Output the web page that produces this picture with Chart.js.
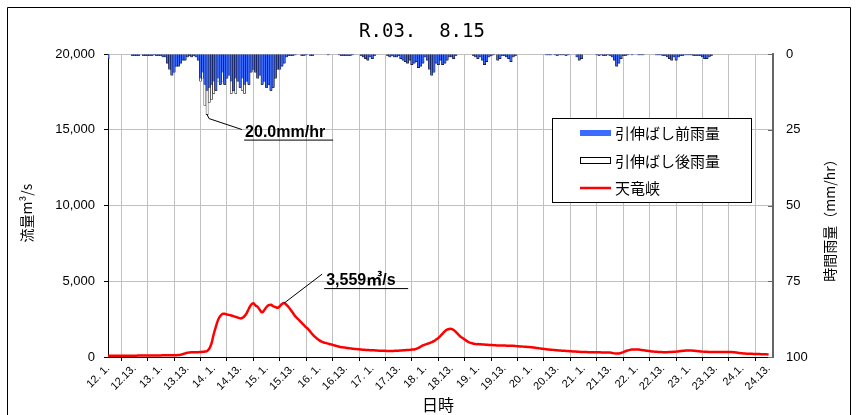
<!DOCTYPE html>
<html>
<head>
<meta charset="utf-8">
<script src="https://cdn.jsdelivr.net/npm/chart.js@4.4.1/dist/chart.umd.min.js"></script>
<style>
  html, body { margin: 0; padding: 0; background: #fff; }
</style>
</head>
<body>
<canvas id="canvas" width="856" height="415"></canvas>
<script>
// 12日1時 からの時刻(時間) の目盛と表示ラベル
var tickHours = [0, 12, 24, 36, 48, 60, 72, 84, 96, 108, 120, 132, 144, 156, 168, 180, 192, 204, 216, 228, 240, 252, 264, 276, 288, 300];
var tickLabels = ["12. 1.", "12.13.", "13. 1.", "13.13.", "14. 1.", "14.13.", "15. 1.", "15.13.", "16. 1.", "16.13.",
                  "17. 1.", "17.13.", "18. 1.", "18.13.", "19. 1.", "19.13.", "20. 1.", "20.13.", "21. 1.", "21.13.",
                  "22. 1.", "22.13.", "23. 1.", "23.13.", "24.1.", "24.13."];
var rainTicks = [0, 25, 50, 75, 100];

// 天竜峡 流量 (m3/s) 1時間毎
var flow = [].concat(
  [80, 80, 80, 80, 80, 80, 80, 85, 85, 85, 90, 90, 90, 90, 95, 95, 95, 100, 100, 100, 100, 100, 105, 105],
  [105, 110, 110, 110, 115, 115, 120, 120, 130, 150, 190, 240, 280, 300, 310, 315, 320, 320, 330, 340, 360, 400, 550, 900],
  [1500, 2000, 2450, 2700, 2850, 2850, 2800, 2780, 2740, 2700, 2650, 2600, 2550, 2580, 2700, 2900, 3200, 3450, 3550, 3400, 3300, 3100, 2950, 3100],
  [3300, 3420, 3450, 3350, 3300, 3250, 3350, 3500, 3559, 3450, 3300, 3100, 2900, 2700, 2550, 2400, 2250, 2100, 1950, 1830, 1650, 1480, 1330, 1200],
  [1100, 1020, 960, 920, 880, 840, 800, 760, 720, 680, 650, 630, 610, 590, 570, 550, 530, 520, 505, 490, 480, 470, 460, 450],
  [445, 440, 430, 420, 415, 410, 405, 400, 400, 400, 405, 410, 420, 430, 440, 450, 460, 470, 490, 500, 540, 600, 680, 760],
  [820, 870, 920, 980, 1050, 1150, 1250, 1400, 1550, 1700, 1800, 1850, 1850, 1780, 1650, 1500, 1350, 1250, 1150, 1050, 960, 920, 880, 850],
  [850, 840, 830, 820, 810, 800, 790, 780, 770, 765, 760, 760, 755, 750, 745, 740, 735, 725, 710, 700, 690, 680, 670, 660],
  [650, 630, 610, 590, 570, 550, 530, 510, 495, 480, 470, 455, 440, 430, 420, 410, 400, 390, 380, 370, 360, 350, 340, 335],
  [330, 325, 320, 320, 315, 315, 310, 310, 305, 300, 300, 300, 290, 270, 240, 225, 235, 270, 320, 380, 430, 470, 490, 500],
  [500, 490, 470, 450, 430, 410, 390, 370, 355, 340, 330, 325, 320, 320, 320, 325, 330, 340, 355, 370, 390, 405, 420, 430],
  [430, 425, 415, 400, 385, 370, 355, 345, 340, 335, 330, 330, 330, 330, 330, 330, 330, 330, 330, 325, 320, 300, 280, 260],
  [240, 230, 220, 215, 210, 205, 200, 195, 190, 185, 180, 175, 170]
);

// 引伸ばし後雨量 (mm/hr)
var rainAfter = [].concat(
  [1.5, 0, 0, 0, 0, 0, 0, 0, 0, 0, 0, 0.5, 0.5, 0.5, 0.5, 0, 0.5, 0.5, 0.5, 0.5, 0.5, 0.3, 0.5, 0.5],
  [0.5, 1, 1, 3, 5, 7, 6, 4, 4, 3, 2, 2, 1, 0.5, 1, 0.5, 1, 2, 9, 8, 17, 20, 16, 15],
  [13, 12, 9, 10, 9, 10, 8, 7, 13, 12, 13, 9, 11, 12, 13, 9, 10, 6, 5, 6, 8, 7, 10, 9],
  [11, 10, 12, 11, 8, 5, 5, 4, 3, 1, 0.5, 0.5, 0.5, 0.3, 0, 0, 0.5, 0.5, 0.3, 0, 0.5, 0.5, 0, 0],
  [0, 0, 0, 0, 0.3, 0, 0, 0, 0, 0.3, 0.5, 0.5, 0.5, 0.5, 0.5, 0.3, 0, 0, 0, 0.5, 1, 1.5, 2, 1],
  [1.5, 0.5, 0, 0, 0, 0, 0, 0.5, 1, 0.5, 1, 1, 0.5, 1.5, 2, 2.5, 3, 2, 3.5, 3, 2.5, 4.5, 4, 3],
  [1, 2, 5, 7, 6, 3, 3.5, 2, 3.5, 3, 2, 1, 1, 1.5, 0.5, 0, 0, 0, 0, 0, 0, 0, 0.5, 1],
  [1.5, 1, 2, 3.5, 2.5, 1, 0.5, 0.3, 0, 2, 1.5, 0.5, 0.5, 1, 1.5, 2.5, 1, 0.5, 0, 0, 0, 0, 0, 0],
  [0, 0, 0, 0, 0, 0, 0, 0.3, 0.3, 0.3, 0, 0.3, 0.5, 0.3, 0.3, 0.3, 0.5, 0.3, 0, 0, 0, 1, 2, 1.5],
  [0, 0, 0, 0, 0, 0, 0.3, 0.5, 0.3, 0.5, 0.5, 0.3, 0.5, 1, 2, 4, 3, 1.5, 0.5, 0.5, 0.3, 0, 0.3, 0],
  [0, 0.3, 0.3, 0.3, 0, 0, 0, 0, 0, 0.3, 0.3, 0.3, 0.5, 0.5, 1, 1.5, 2, 1, 2, 1, 0.5, 0.5, 0.3, 0.3],
  [0.3, 0.3, 0.5, 0.5, 0.5, 0.5, 1, 1.5, 1.5, 1, 0.5, 0, 0, 0, 0, 0, 0, 0, 0, 0, 0, 0, 0, 0],
  [0, 0, 0, 0, 0, 0, 0, 0, 0, 0, 0, 0]
);

// 引伸ばし前雨量 (mm/hr)
var rainBefore = [].concat(
  [1.5, 0, 0, 0, 0, 0, 0, 0, 0, 0, 0, 0.5, 0.5, 0.5, 0.5, 0, 0.5, 0.5, 0.5, 0.5, 0.5, 0.3, 0.5, 0.5],
  [0.5, 1, 1, 3, 5, 7, 6, 4, 4, 3, 2, 2, 1, 0.5, 1, 0.5, 1, 2, 8, 6, 10, 12, 11, 10],
  [9, 12, 8, 10, 6, 10, 8, 7, 9, 12, 8, 9, 11, 8, 10, 9, 10, 6, 5, 6, 8, 7, 10, 9],
  [11, 10, 12, 11, 8, 5, 5, 4, 3, 1, 0.5, 0.5, 0.5, 0.3, 0, 0, 0.5, 0.5, 0.3, 0, 0.5, 0.5, 0, 0],
  [0, 0, 0, 0, 0.3, 0, 0, 0, 0, 0.3, 0.5, 0.5, 0.5, 0.5, 0.5, 0.3, 0, 0, 0, 0.5, 1, 1.5, 2, 1],
  [1.5, 0.5, 0, 0, 0, 0, 0, 0.5, 1, 0.5, 1, 1, 0.5, 1.5, 2, 2.5, 3, 2, 3.5, 3, 2.5, 4.5, 4, 3],
  [1, 2, 5, 7, 6, 3, 3.5, 2, 3.5, 3, 2, 1, 1, 1.5, 0.5, 0, 0, 0, 0, 0, 0, 0, 0.5, 1],
  [1.5, 1, 2, 3.5, 2.5, 1, 0.5, 0.3, 0, 2, 1.5, 0.5, 0.5, 1, 1.5, 2.5, 1, 0.5, 0, 0, 0, 0, 0, 0],
  [0, 0, 0, 0, 0, 0, 0, 0.3, 0.3, 0.3, 0, 0.3, 0.5, 0.3, 0.3, 0.3, 0.5, 0.3, 0, 0, 0, 1, 2, 1.5],
  [0, 0, 0, 0, 0, 0, 0.3, 0.5, 0.3, 0.5, 0.5, 0.3, 0.5, 1, 2, 4, 3, 1.5, 0.5, 0.5, 0.3, 0, 0.3, 0],
  [0, 0.3, 0.3, 0.3, 0, 0, 0, 0, 0, 0.3, 0.3, 0.3, 0.5, 0.5, 1, 1.5, 2, 1, 2, 1, 0.5, 0.5, 0.3, 0.3],
  [0.3, 0.3, 0.5, 0.5, 0.5, 0.5, 1, 1.5, 1.5, 1, 0.5, 0, 0, 0, 0, 0, 0, 0, 0, 0, 0, 0, 0, 0],
  [0, 0, 0, 0, 0, 0, 0, 0, 0, 0, 0, 0]
);

var peakHour = 80, peakFlow = 3559;
var maxRainHour = 45, maxRain = 20.0;

var JP = "'Noto Sans CJK JP', sans-serif";
var NUM = "'Liberation Sans', Arial, sans-serif";
var BLUE = '#3c6cff';

function pts(arr) {
  return arr.map(function (v, i) { return { x: i, y: v }; });
}

// タイトル・軸タイトル・凡例・注記
var extras = {
  id: 'extras',
  afterDraw: function (chart) {
    var c = chart.ctx;
    var xs = chart.scales.x, y = chart.scales.y, y2 = chart.scales.y2;
    c.save();

    // 外枠
    c.strokeStyle = '#000';
    c.lineWidth = 1;
    c.beginPath();
    c.moveTo(7.5, 420); c.lineTo(7.5, 7.5); c.lineTo(850.5, 7.5); c.lineTo(850.5, 420);
    c.stroke();

    // 右軸の内向き目盛
    c.strokeStyle = '#666';
    rainTicks.forEach(function (t) {
      var ty = Math.round(y2.getPixelForValue(t)) + 0.5;
      c.beginPath(); c.moveTo(y2.left - 5, ty); c.lineTo(y2.left, ty); c.stroke();
    });

    // タイトル
    c.fillStyle = '#000';
    c.font = "19px 'DejaVu Sans Mono', monospace";
    c.textAlign = 'center';
    c.textBaseline = 'middle';
    c.fillText('R.03.  8.15', 422, 32);

    // 軸タイトル
    c.font = '16px ' + JP;
    c.fillText('日時', 438, 405);
    c.font = '14px ' + JP;
    c.save();
    c.translate(27, 213);
    c.rotate(-Math.PI / 2);
    c.fillText('流量m³/s', 0, 0);
    c.restore();
    c.save();
    c.translate(830, 217);
    c.rotate(-Math.PI / 2);
    c.fillText('時間雨量（mm/hr）', 0, 0);
    c.restore();

    // 凡例
    c.strokeStyle = '#000';
    c.lineWidth = 1;
    c.fillStyle = '#fff';
    c.fillRect(552.5, 118.5, 199, 84);
    c.strokeRect(552.5, 118.5, 199, 84);
    c.fillStyle = BLUE;
    c.fillRect(580, 130, 31, 6);
    c.fillStyle = '#fff';
    c.fillRect(580.5, 157.5, 30, 6);
    c.strokeRect(580.5, 157.5, 30, 6);
    c.strokeStyle = '#ff0000';
    c.lineWidth = 2.5;
    c.beginPath(); c.moveTo(580, 188); c.lineTo(611, 188); c.stroke();
    c.fillStyle = '#000';
    c.textAlign = 'left';
    c.font = '15px ' + JP;
    c.fillText('引伸ばし前雨量', 615, 133);
    c.fillText('引伸ばし後雨量', 615, 161);
    c.fillText('天竜峡', 615, 188);

    // 注記: 最大雨量
    c.strokeStyle = '#000';
    c.lineWidth = 1;
    var rx = xs.getPixelForValue(maxRainHour), ry = y2.getPixelForValue(maxRain);
    c.beginPath();
    c.moveTo(rx, ry); c.lineTo(rx + 2, ry + 4); c.lineTo(rx + 35, ry + 15);
    c.moveTo(rx + 37, ry + 25.5); c.lineTo(rx + 126, ry + 25.5);
    c.stroke();
    c.font = 'bold 16px ' + NUM;
    c.textBaseline = 'alphabetic';
    c.fillText(maxRain.toFixed(1) + 'mm/hr', rx + 38, ry + 22);

    // 注記: ピーク流量
    var px = xs.getPixelForValue(peakHour), py = y.getPixelForValue(peakFlow);
    c.beginPath();
    c.moveTo(px, py); c.lineTo(px + 38, py - 29);
    c.moveTo(px + 40, py - 14.5); c.lineTo(px + 124, py - 14.5);
    c.stroke();
    c.font = 'bold 16px ' + NUM + ", " + JP;
    c.fillText(peakFlow.toLocaleString('en-US') + '㎥/s', px + 42, py - 18);

    c.restore();
  }
};

var ctx = document.getElementById('canvas');

new Chart(ctx, {
  data: {
    datasets: [
      {
        type: 'line',
        label: '天竜峡',
        data: pts(flow),
        yAxisID: 'y',
        borderColor: '#ff0000',
        borderWidth: 2.5,
        pointRadius: 0,
        tension: 0.4,
        order: 0
      },
      {
        type: 'bar',
        label: '引伸ばし前雨量',
        data: pts(rainBefore),
        yAxisID: 'y2',
        backgroundColor: BLUE,
        borderColor: '#101030',
        borderWidth: 0.6,
        grouped: false,
        barPercentage: 1,
        categoryPercentage: 1,
        order: 1
      },
      {
        type: 'bar',
        label: '引伸ばし後雨量',
        data: pts(rainAfter),
        yAxisID: 'y2',
        backgroundColor: '#ffffff',
        borderColor: '#000000',
        borderWidth: 0.6,
        grouped: false,
        barPercentage: 1,
        categoryPercentage: 1,
        order: 2
      }
    ]
  },
  options: {
    responsive: false,
    animation: false,
    layout: { padding: { top: 54, left: 0, right: 0, bottom: 0 } },
    plugins: {
      legend: { display: false },
      tooltip: { enabled: false }
    },
    scales: {
      x: {
        type: 'linear',
        min: 0,
        max: 302,
        offset: false,
        afterBuildTicks: function (s) {
          s.ticks = tickHours.map(function (v) { return { value: v }; });
        },
        afterFit: function (s) { s.height = 58; },
        ticks: {
          autoSkip: false,
          minRotation: 45,
          maxRotation: 45,
          padding: 1,
          color: '#000',
          font: { size: 11, family: NUM },
          callback: function (v, i) { return tickLabels[i]; }
        },
        grid: { color: '#c0c0c0', tickColor: '#000', tickLength: 4 },
        border: { color: '#000' }
      },
      y: {
        position: 'left',
        min: 0,
        max: 20000,
        afterFit: function (s) { s.width = 108; },
        ticks: {
          stepSize: 5000,
          padding: 9,
          color: '#000',
          font: { size: 13, family: NUM },
          callback: function (v) { return v.toLocaleString('en-US'); }
        },
        grid: { color: '#c0c0c0', tickColor: '#000', tickLength: 4 },
        border: { color: '#000' }
      },
      y2: {
        position: 'right',
        reverse: true,
        min: 0,
        max: 100,
        afterFit: function (s) { s.width = 83; },
        ticks: {
          stepSize: 25,
          padding: 13,
          color: '#000',
          font: { size: 13, family: NUM }
        },
        grid: { drawOnChartArea: false, drawTicks: false },
        border: { color: '#666', width: 2 }
      }
    }
  },
  plugins: [extras]
});
</script>
</body>
</html>
